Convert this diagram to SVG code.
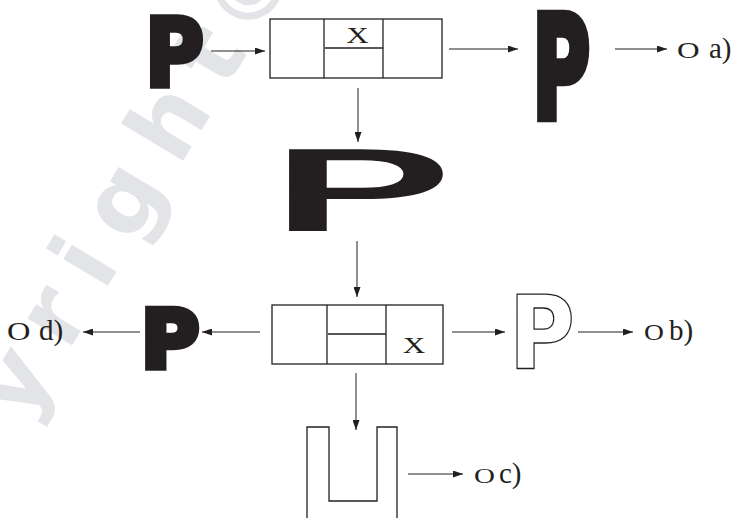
<svg xmlns="http://www.w3.org/2000/svg" width="739" height="518" viewBox="0 0 739 518">
  <style>
    .wm { font-family: "DejaVu Sans", sans-serif; font-weight: bold; font-size: 95px; fill: #e2e4e7; letter-spacing: 22.6px; }
    .pb { font-family: "DejaVu Sans", sans-serif; font-weight: bold; font-size: 100px; fill: #231f20; stroke: #231f20; stroke-linejoin: miter; }
    .pw { font-family: "DejaVu Sans", sans-serif; font-weight: normal; font-size: 100px; fill: #231f20; stroke: #231f20; }
    .po { font-family: "DejaVu Sans", sans-serif; font-weight: bold; font-size: 100px; fill: #ffffff; stroke: #231f20; }
    .cell { fill: #ffffff; stroke: #231f20; stroke-width: 1.3; }
    .ln { fill: none; stroke: #231f20; stroke-width: 1.3; }
    .xt { font-family: "Liberation Serif", "Times New Roman", serif; font-size: 24px; fill: #231f20; text-anchor: middle; }
    .opt { font-family: "Liberation Serif", "Times New Roman", serif; font-size: 29px; fill: #231f20; }
    .arr { fill: none; stroke: #231f20; stroke-width: 1; marker-end: url(#ah); }
  </style>
  <defs>
    <marker id="ah" markerUnits="userSpaceOnUse" markerWidth="10" markerHeight="7" refX="10" refY="3.5" orient="auto">
      <path d="M0,0 L10,3.5 L0,7 Z" fill="#231f20"/>
    </marker>
    <clipPath id="wmclip">
      <rect x="0" y="0" width="739" height="428"/>
    </clipPath>
  </defs>

  <rect width="739" height="518" fill="#ffffff"/>

  <g id="watermark" clip-path="url(#wmclip)">
    <text class="wm" transform="translate(205.4,123.4) rotate(-59)" x="-622" y="0">Copyright<tspan dx="-14">©</tspan></text>
  </g>

  <g id="connectors">
    <line class="arr" x1="211" y1="51" x2="265" y2="51"/>
    <line class="arr" x1="449" y1="49" x2="518" y2="49"/>
    <line class="arr" x1="615" y1="49" x2="667" y2="49"/>
    <line class="arr" x1="358" y1="88" x2="358" y2="142"/>
    <line class="arr" x1="357" y1="241" x2="357" y2="297"/>
    <line class="arr" x1="260" y1="332" x2="202" y2="332"/>
    <line class="arr" x1="140" y1="332" x2="83" y2="332"/>
    <line class="arr" x1="452" y1="332" x2="505" y2="332"/>
    <line class="arr" x1="578" y1="332" x2="633" y2="332"/>
    <line class="arr" x1="356" y1="373" x2="356" y2="430"/>
    <line class="arr" x1="408" y1="474" x2="463" y2="474"/>
  </g>

  <g id="p-start">
    <text class="pb" stroke-width="6" transform="translate(145.1,86.2) scale(0.805,0.938)">P</text>
  </g>

  <g id="box-top">
    <rect class="cell" x="270" y="19" width="172" height="59"/>
    <line class="ln" x1="324" y1="19" x2="324" y2="78"/>
    <line class="ln" x1="383" y1="19" x2="383" y2="78"/>
    <line class="ln" x1="325" y1="48" x2="383" y2="48"/>
    <text class="xt" transform="translate(357.5,43) scale(1.3,1)">X</text>
  </g>

  <g id="p-tall">
    <text class="pb" stroke-width="6" transform="translate(532.2,117.7) scale(0.79,1.432)">P</text>
  </g>

  <g id="opt-a">
    <text class="opt" transform="translate(677,58) scale(1.08,0.8)">O</text>
    <text class="opt" x="709" y="58">a)</text>
  </g>

  <g id="p-wide">
    <text class="pw" stroke-width="2.2" transform="translate(261.9,229.8) scale(3.12,1.09)">P</text>
  </g>

  <g id="box-bottom">
    <rect class="cell" x="272" y="305" width="171" height="59"/>
    <line class="ln" x1="327" y1="305" x2="327" y2="364"/>
    <line class="ln" x1="386" y1="305" x2="386" y2="364"/>
    <line class="ln" x1="328" y1="334" x2="386" y2="334"/>
    <text class="xt" transform="translate(414,353) scale(1.3,1)">X</text>
  </g>

  <g id="p-left">
    <text class="pb" stroke-width="8" transform="translate(140.9,366.8) scale(0.796,0.803)">P</text>
  </g>

  <g id="opt-d">
    <text class="opt" transform="translate(7,340) scale(1.12,0.88)">O</text>
    <text class="opt" x="39" y="340">d)</text>
  </g>

  <g id="p-outline">
    <text class="po" stroke-width="1.3" transform="translate(508.8,369) scale(0.904,1.015)">P</text>
  </g>

  <g id="opt-b">
    <text class="opt" transform="translate(644,340) scale(0.95,0.8)">O</text>
    <text class="opt" x="669" y="340">b)</text>
  </g>

  <g id="u-shape">
    <polyline class="ln" points="307,518 307,427 329,427 329,501 377,501 377,427 397,427 397,518"/>
  </g>

  <g id="opt-c">
    <text class="opt" transform="translate(474,483) scale(1.0,0.75)">O</text>
    <text class="opt" x="499" y="483">c)</text>
  </g>
</svg>
